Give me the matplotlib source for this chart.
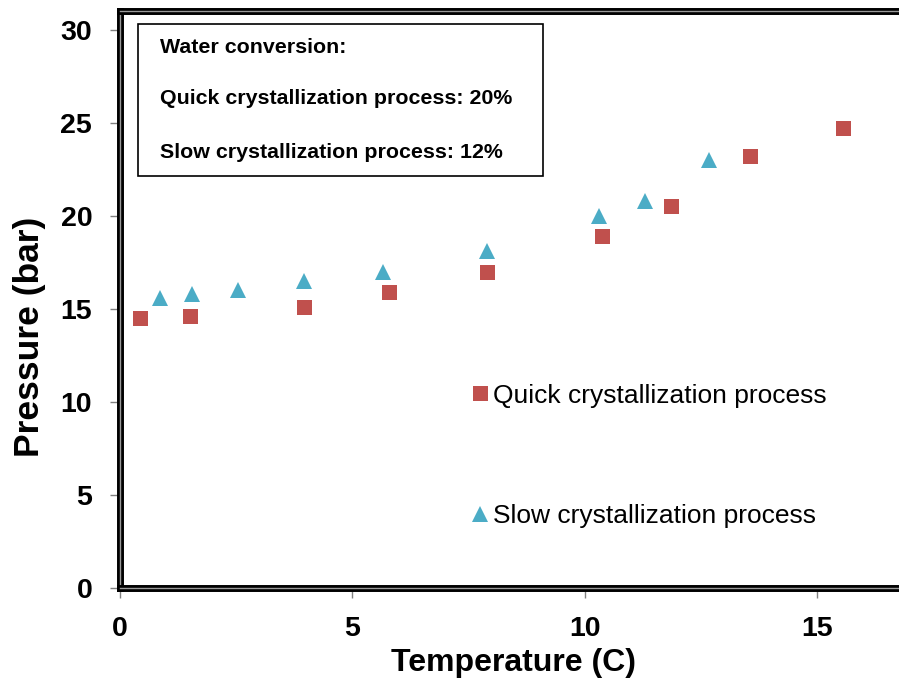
import matplotlib
matplotlib.use("Agg")
import matplotlib.pyplot as plt
import matplotlib.patheffects as pe
from matplotlib.patches import Rectangle

# values
quick_temp = [0.44, 1.50, 3.97, 5.78, 7.89, 10.37, 11.87, 13.57, 15.57]
quick_pres = [14.5, 14.6, 15.1, 15.9, 17.0, 18.9, 20.5, 23.2, 24.7]
slow_temp = [0.87, 1.54, 2.53, 3.97, 5.67, 7.91, 10.32, 11.31, 12.69]
slow_pres = [15.6, 15.8, 16.0, 16.5, 17.0, 18.1, 20.0, 20.8, 23.0]

x_ticks = [0, 5, 10, 15]
y_ticks = [0, 5, 10, 15, 20, 25, 30]
note_lines = ["Water conversion:",
              "Quick crystallization process: 20%",
              "Slow crystallization process: 12%"]

plt.rcParams['font.family'] = ['Liberation Sans', 'DejaVu Sans']

fig = plt.figure(figsize=(8.99, 6.82), dpi=100)
ax = fig.add_axes([0.1335, 0.1378, 0.8784, 0.8461])

ax.plot(quick_temp, quick_pres, 's', color='#C0504D', ms=10.8, mew=0,
        label='Quick crystallization process')
ax.plot(slow_temp, slow_pres, '^', color='#4BACC6', ms=11.5, mew=0,
        label='Slow crystallization process')

ax.set_xlim(0, 17)
ax.set_ylim(0, 31)
ax.set_xticks(x_ticks)
ax.set_yticks(y_ticks)
ax.tick_params(direction='out', length=7, width=1, color='#808080',
               labelsize=20.5, pad=13)
for lab in ax.get_xticklabels() + ax.get_yticklabels():
    lab.set_fontweight('bold')

# thick double-line frame
for side in ['left', 'bottom', 'top', 'right']:
    sp = ax.spines[side]
    sp.set_linewidth(1)
    sp.set_color('#9a9a9a')
    sp.set_path_effects([pe.Stroke(linewidth=5, foreground='black'), pe.Normal()])

ax.set_xlabel('Temperature (C)', fontsize=23, fontweight='bold')
ax.xaxis.set_label_coords(0.4985, -0.104)
ax.set_ylabel('Pressure (bar)', fontsize=25.5, fontweight='bold')
ax.yaxis.set_label_coords(-0.0935, 0.435)

leg = ax.legend(loc='center left', bbox_to_anchor=(0.525, 0.3315),
                bbox_transform=fig.transFigure, frameon=False, fontsize=19,
                handlelength=0.6, handletextpad=0.2, labelspacing=3.66,
                borderpad=0, borderaxespad=0, numpoints=1)

# note box at upper left
fig.patches.append(Rectangle((0.1535, 0.7419), 0.4505, 0.2229,
                             transform=fig.transFigure, fill=True,
                             facecolor='white', edgecolor='black', lw=1.2,
                             zorder=5))
for txt, yy in zip(note_lines, [0.931, 0.855, 0.777]):
    fig.text(0.178, yy, txt, fontsize=15.4, fontweight='bold', va='center',
             ha='left', zorder=6)

fig.savefig('out.png', dpi=100)
